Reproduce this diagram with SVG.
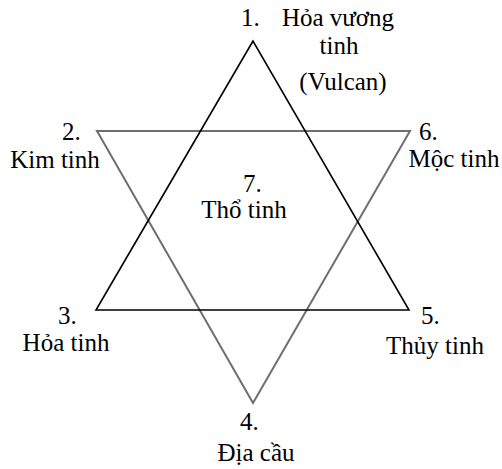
<svg xmlns="http://www.w3.org/2000/svg" width="502" height="469" viewBox="0 0 502 469">
<style>
text{font-family:"Liberation Serif","Times New Roman",serif;font-size:25px;fill:#000}
.up{fill:none;stroke:#000;stroke-width:1.6;stroke-linejoin:miter}
.down{fill:none;stroke:#6e6e6e;stroke-width:2;stroke-linejoin:miter}
</style>
<rect width="502" height="469" fill="#fff"/>
<g id="connectors">
<polygon class="down" points="97,131 410,131 253,403"/>
<polygon class="up" points="253,41 96,310 409,310"/>
</g>
<g id="n1">
<text x="241" y="26">1.</text>
<text x="338" y="26" text-anchor="middle">Hỏa vương</text>
<text x="339" y="54" text-anchor="middle">tinh</text>
<text x="343" y="90" text-anchor="middle">(Vulcan)</text>
</g>
<g id="n2">
<text x="62" y="140">2.</text>
<text x="55" y="168" text-anchor="middle">Kim tinh</text>
</g>
<g id="n6">
<text x="419" y="140">6.</text>
<text x="454" y="167" text-anchor="middle">Mộc tinh</text>
</g>
<g id="n7">
<text x="243" y="192">7.</text>
<text x="244" y="218" text-anchor="middle">Thổ tinh</text>
</g>
<g id="n3">
<text x="58" y="324">3.</text>
<text x="66" y="351" text-anchor="middle">Hỏa tinh</text>
</g>
<g id="n5">
<text x="421" y="324">5.</text>
<text x="435" y="354" text-anchor="middle">Thủy tinh</text>
</g>
<g id="n4">
<text x="240" y="430">4.</text>
<text x="256" y="461" text-anchor="middle">Địa cầu</text>
</g>
</svg>
